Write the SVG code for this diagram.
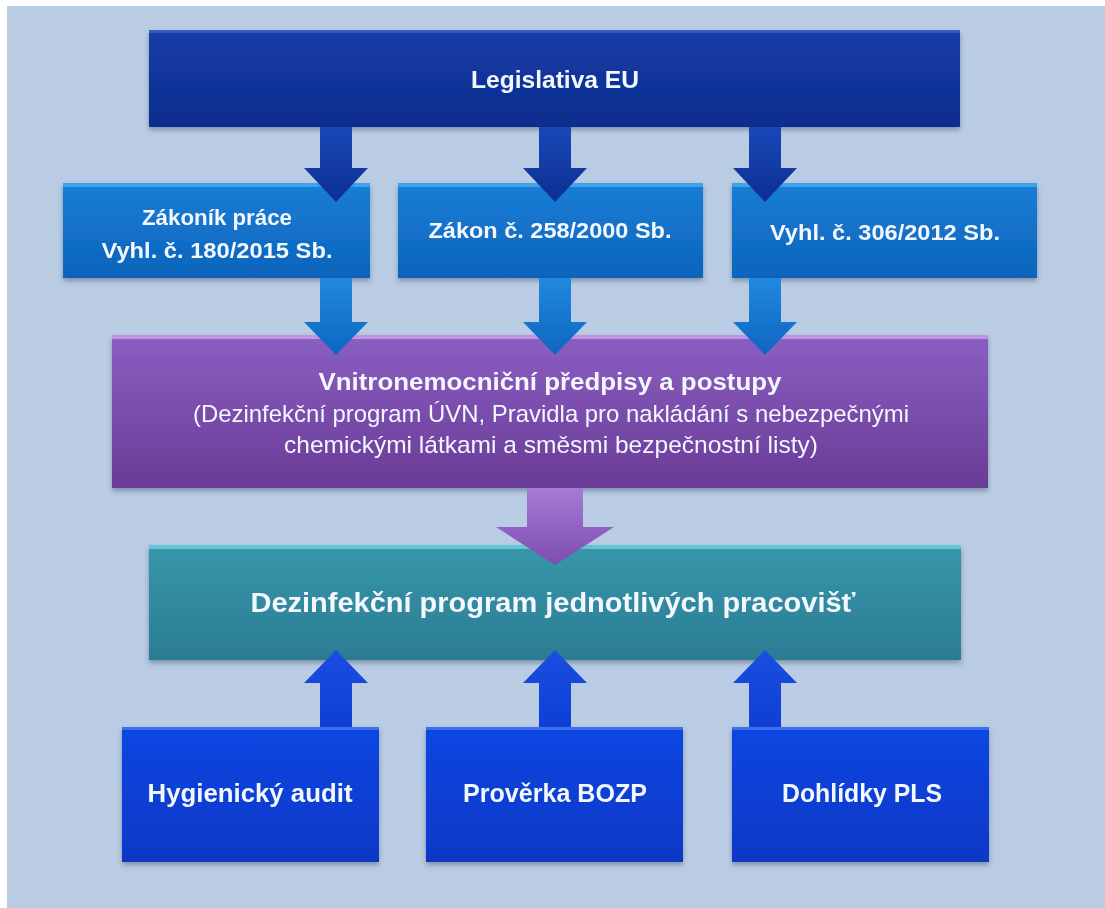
<svg xmlns="http://www.w3.org/2000/svg" width="1105" height="908" viewBox="0 0 1105 908">
<defs>
<style>
.t{font-family:"Liberation Sans",Arial,sans-serif;fill:#f3f7ff;text-anchor:middle}
.b{font-weight:bold}
.hl{opacity:0.8}
</style>
<filter id="sh" x="-5%" y="-10%" width="110%" height="125%">
<feDropShadow dx="0" dy="3" stdDeviation="2.5" flood-color="#3a4a60" flood-opacity="0.45"/>
</filter>
<linearGradient id="gEU" x1="0" y1="0" x2="0" y2="1"><stop offset="0" stop-color="#173da8"/><stop offset="1" stop-color="#0b2d8c"/></linearGradient>
<linearGradient id="gR2" x1="0" y1="0" x2="0" y2="1"><stop offset="0" stop-color="#1a7dd6"/><stop offset="1" stop-color="#0c64bb"/></linearGradient>
<linearGradient id="gPu" x1="0" y1="0" x2="0" y2="1"><stop offset="0" stop-color="#8b5fc2"/><stop offset="1" stop-color="#6a3b96"/></linearGradient>
<linearGradient id="gTe" x1="0" y1="0" x2="0" y2="1"><stop offset="0" stop-color="#3797ab"/><stop offset="1" stop-color="#2b7c93"/></linearGradient>
<linearGradient id="gBo" x1="0" y1="0" x2="0" y2="1"><stop offset="0" stop-color="#1046e2"/><stop offset="1" stop-color="#0a38c6"/></linearGradient>
<linearGradient id="aEU" x1="0" y1="0" x2="0" y2="1"><stop offset="0" stop-color="#1a48b8"/><stop offset="1" stop-color="#0c2f92"/></linearGradient>
<linearGradient id="aR2" x1="0" y1="0" x2="0" y2="1"><stop offset="0" stop-color="#2088e0"/><stop offset="1" stop-color="#0f66c0"/></linearGradient>
<linearGradient id="aPu" x1="0" y1="0" x2="0" y2="1"><stop offset="0" stop-color="#a77ad4"/><stop offset="1" stop-color="#7e4db0"/></linearGradient>
<linearGradient id="aBo" x1="0" y1="1" x2="0" y2="0"><stop offset="0" stop-color="#0d3fd4"/><stop offset="1" stop-color="#1a4ee0"/></linearGradient>
</defs>

<rect x="0" y="0" width="1105" height="908" fill="#ffffff"/>
<rect x="7" y="6" width="1098" height="902" fill="#b9cce4"/>

<g id="node-eu" filter="url(#sh)">
<rect x="149" y="30" width="811" height="97" fill="url(#gEU)"/>
<rect x="149" y="30" width="811" height="3" fill="#3a63c6" class="hl"/>
<text class="t b" x="555" y="88" font-size="24" textLength="168" lengthAdjust="spacingAndGlyphs">Legislativa EU</text>
</g>

<g id="node-zakonik" filter="url(#sh)">
<rect x="63" y="183" width="307" height="95" fill="url(#gR2)"/>
<rect x="63" y="183" width="307" height="4" fill="#4aaaf0" class="hl"/>
<text class="t b" x="217" y="225" font-size="22" textLength="150" lengthAdjust="spacingAndGlyphs">Zákoník práce</text>
<text class="t b" x="217" y="258" font-size="22" textLength="231" lengthAdjust="spacingAndGlyphs">Vyhl. č. 180/2015 Sb.</text>
</g>

<g id="node-zakon258" filter="url(#sh)">
<rect x="398" y="183" width="305" height="95" fill="url(#gR2)"/>
<rect x="398" y="183" width="305" height="4" fill="#4aaaf0" class="hl"/>
<text class="t b" x="550" y="238" font-size="22" textLength="243" lengthAdjust="spacingAndGlyphs">Zákon č. 258/2000 Sb.</text>
</g>

<g id="node-vyhl306" filter="url(#sh)">
<rect x="732" y="183" width="305" height="95" fill="url(#gR2)"/>
<rect x="732" y="183" width="305" height="4" fill="#4aaaf0" class="hl"/>
<text class="t b" x="885" y="240" font-size="22" textLength="230" lengthAdjust="spacingAndGlyphs">Vyhl. č. 306/2012 Sb.</text>
</g>

<g id="node-vnitro" filter="url(#sh)">
<rect x="112" y="335" width="876" height="153" fill="url(#gPu)"/>
<rect x="112" y="335" width="876" height="4" fill="#c9a2ea" class="hl"/>
<text class="t b" x="550" y="390" font-size="24" fill="#f6f0ff" textLength="463" lengthAdjust="spacingAndGlyphs">Vnitronemocniční předpisy a postupy</text>
<text class="t" x="551" y="422" font-size="24" textLength="716" lengthAdjust="spacingAndGlyphs">(Dezinfekční program ÚVN, Pravidla pro nakládání s nebezpečnými</text>
<text class="t" x="551" y="453" font-size="24" textLength="534" lengthAdjust="spacingAndGlyphs">chemickými látkami a směsmi bezpečnostní listy)</text>
</g>

<g id="node-dezinfekce" filter="url(#sh)">
<rect x="149" y="545" width="812" height="115" fill="url(#gTe)"/>
<rect x="149" y="545" width="812" height="4" fill="#6fd0e0" class="hl"/>
<text class="t b" x="553" y="612" font-size="28" textLength="605" lengthAdjust="spacingAndGlyphs">Dezinfekční program jednotlivých pracovišť</text>
</g>

<g id="node-hygiena" filter="url(#sh)">
<rect x="122" y="727" width="257" height="135" fill="url(#gBo)"/>
<rect x="122" y="727" width="257" height="3" fill="#4a78f0" class="hl"/>
<text class="t b" x="250" y="802" font-size="26" textLength="205" lengthAdjust="spacingAndGlyphs">Hygienický audit</text>
</g>

<g id="node-bozp" filter="url(#sh)">
<rect x="426" y="727" width="257" height="135" fill="url(#gBo)"/>
<rect x="426" y="727" width="257" height="3" fill="#4a78f0" class="hl"/>
<text class="t b" x="555" y="802" font-size="26" textLength="184" lengthAdjust="spacingAndGlyphs">Prověrka BOZP</text>
</g>

<g id="node-pls" filter="url(#sh)">
<rect x="732" y="727" width="257" height="135" fill="url(#gBo)"/>
<rect x="732" y="727" width="257" height="3" fill="#4a78f0" class="hl"/>
<text class="t b" x="862" y="802" font-size="26" textLength="160" lengthAdjust="spacingAndGlyphs">Dohlídky PLS</text>
</g>

<g id="connectors">
<path d="M320,127 L352,127 L352,168 L368,168 L336,202 L304,168 L320,168 Z" fill="url(#aEU)"/>
<path d="M539,127 L571,127 L571,168 L587,168 L555,202 L523,168 L539,168 Z" fill="url(#aEU)"/>
<path d="M749,127 L781,127 L781,168 L797,168 L765,202 L733,168 L749,168 Z" fill="url(#aEU)"/>

<path d="M320,278 L352,278 L352,322 L368,322 L336,355 L304,322 L320,322 Z" fill="url(#aR2)"/>
<path d="M539,278 L571,278 L571,322 L587,322 L555,355 L523,322 L539,322 Z" fill="url(#aR2)"/>
<path d="M749,278 L781,278 L781,322 L797,322 L765,355 L733,322 L749,322 Z" fill="url(#aR2)"/>

<path d="M527,488 L583,488 L583,527 L614,527 L555,565 L496,527 L527,527 Z" fill="url(#aPu)"/>

<path d="M320,727 L352,727 L352,683 L368,683 L336,650 L304,683 L320,683 Z" fill="url(#aBo)"/>
<path d="M539,727 L571,727 L571,683 L587,683 L555,650 L523,683 L539,683 Z" fill="url(#aBo)"/>
<path d="M749,727 L781,727 L781,683 L797,683 L765,650 L733,683 L749,683 Z" fill="url(#aBo)"/>
</g>
</svg>
